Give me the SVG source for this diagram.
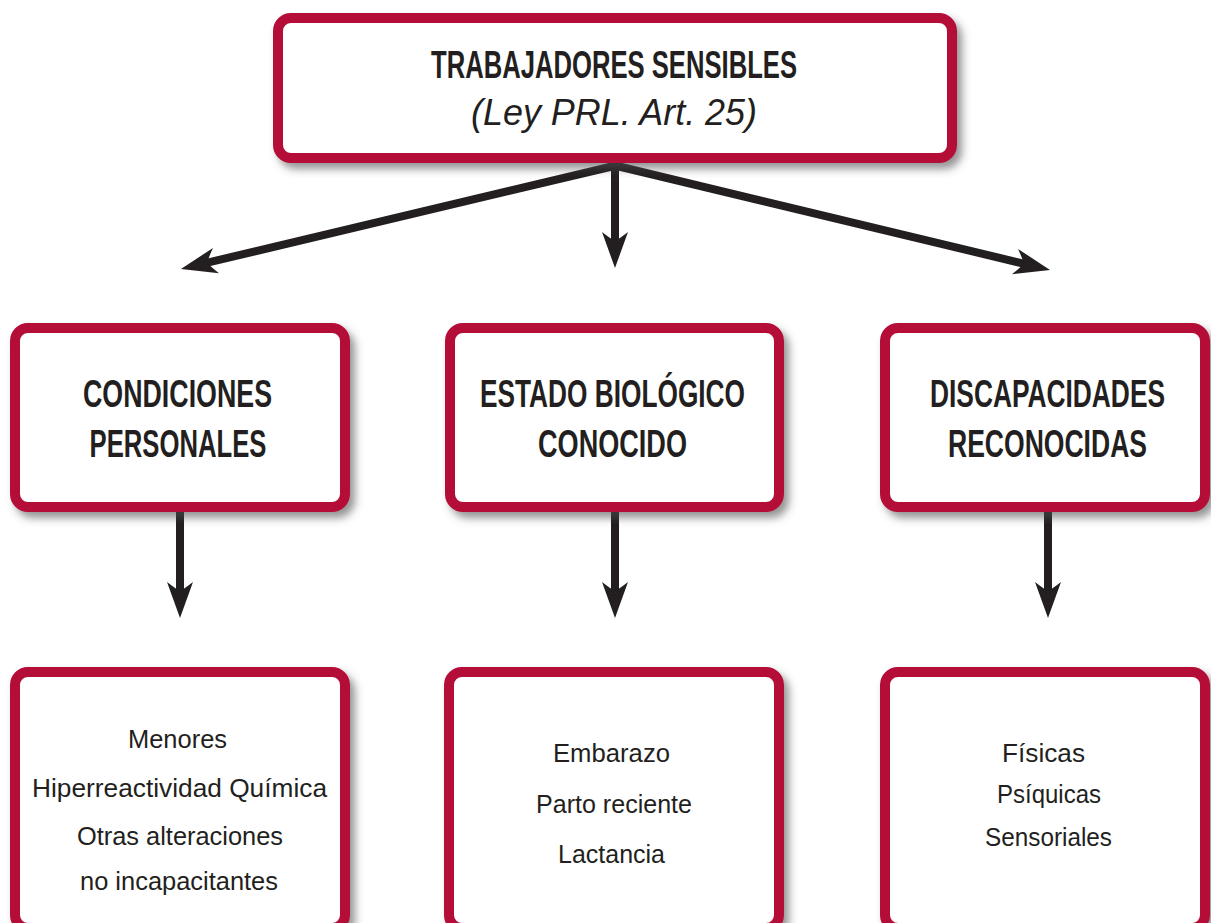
<svg xmlns="http://www.w3.org/2000/svg" width="1211" height="923" viewBox="0 0 1211 923">
  <style>
    .box { fill: #ffffff; stroke: #b30838; stroke-width: 10; }
    .head { font-family: "Liberation Sans Narrow", "Liberation Sans", "DejaVu Sans Condensed", sans-serif; font-weight: bold; font-size: 39px; fill: #231f20; text-anchor: middle; }
    .headr { font-size: 33px; }
    .headrs { font-size: 29px; }
    .sub { font-family: "Liberation Sans Narrow", "Liberation Sans", sans-serif; font-style: italic; font-size: 37px; fill: #231f20; text-anchor: middle; }
    .body { font-family: "Liberation Sans Narrow", "Liberation Sans", sans-serif; font-size: 26px; fill: #231f20; text-anchor: middle; }
    .conn { stroke: #231f20; stroke-width: 8; fill: none; marker-end: url(#arrow); }
  </style>
  <defs>
    <filter id="shadow" x="-10%" y="-10%" width="125%" height="130%">
      <feDropShadow dx="5" dy="6" stdDeviation="4" flood-color="#4d4d4d" flood-opacity="0.6"/>
    </filter>
    <marker id="arrow" markerUnits="userSpaceOnUse" markerWidth="40" markerHeight="30" viewBox="0 0 40 30" refX="12" refY="15" orient="auto">
      <path d="M36,15 L0,2 Q7,11 9,15 Q7,19 0,28 Z" fill="#231f20"/>
    </marker>
  </defs>
  <rect width="1211" height="923" fill="#ffffff"/>

  <g id="connectors">
    <line class="conn" x1="614" y1="166" x2="204.3" y2="263.4"/>
    <line class="conn" x1="617" y1="166" x2="1026.7" y2="264.4"/>
    <line class="conn" x1="615" y1="160" x2="615" y2="244"/>
    <line class="conn" x1="180" y1="505" x2="180" y2="594"/>
    <line class="conn" x1="615" y1="505" x2="615" y2="594"/>
    <line class="conn" x1="1048" y1="505" x2="1048" y2="594"/>
  </g>

  <g id="node-top">
    <rect class="box" x="278" y="18" width="674" height="140" rx="13" filter="url(#shadow)"/>
    <text class="head" x="614" y="78" textLength="366" lengthAdjust="spacingAndGlyphs">TRABAJADORES SENSIBLES</text>
    <text class="sub" x="614" y="125" textLength="286" lengthAdjust="spacingAndGlyphs">(Ley PRL. Art. 25)</text>
  </g>

  <g id="node-condiciones">
    <rect class="box" x="15" y="328" width="330" height="179" rx="13" filter="url(#shadow)"/>
    <text class="head" x="177.5" y="407" textLength="189" lengthAdjust="spacingAndGlyphs">CONDICIONES</text>
    <text class="head" x="178" y="457" textLength="177" lengthAdjust="spacingAndGlyphs">PERSONALES</text>
  </g>

  <g id="node-estado">
    <rect class="box" x="450" y="328" width="329" height="179" rx="13" filter="url(#shadow)"/>
    <text class="head" x="612.5" y="407" textLength="265" lengthAdjust="spacingAndGlyphs">ESTADO BIOLÓGICO</text>
    <text class="head" x="612.5" y="457" textLength="149" lengthAdjust="spacingAndGlyphs">CONOCIDO</text>
  </g>

  <g id="node-discapacidades">
    <rect class="box" x="885" y="328" width="320" height="179" rx="13" filter="url(#shadow)"/>
    <text class="head headrs" transform="translate(1047.5,407) scale(1,1.34)" x="0" y="0" textLength="235" lengthAdjust="spacingAndGlyphs">DISCAPACIDADES</text>
    <text class="head headr" transform="translate(1047.5,457) scale(1,1.18)" x="0" y="0" textLength="199" lengthAdjust="spacingAndGlyphs">RECONOCIDAS</text>
  </g>

  <g id="node-condiciones-list">
    <rect class="box" x="15" y="672" width="330" height="256" rx="13" filter="url(#shadow)"/>
    <text class="body" x="177.5" y="748" textLength="99" lengthAdjust="spacingAndGlyphs">Menores</text>
    <text class="body" x="179.5" y="797" textLength="295" lengthAdjust="spacingAndGlyphs">Hiperreactividad Química</text>
    <text class="body" x="180" y="845" textLength="206" lengthAdjust="spacingAndGlyphs">Otras alteraciones</text>
    <text class="body" x="179" y="890" textLength="198" lengthAdjust="spacingAndGlyphs">no incapacitantes</text>
  </g>

  <g id="node-estado-list">
    <rect class="box" x="449" y="672" width="330" height="256" rx="13" filter="url(#shadow)"/>
    <text class="body" x="611.5" y="762" textLength="117" lengthAdjust="spacingAndGlyphs">Embarazo</text>
    <text class="body" x="614" y="813" textLength="156" lengthAdjust="spacingAndGlyphs">Parto reciente</text>
    <text class="body" x="611.5" y="863" textLength="107" lengthAdjust="spacingAndGlyphs">Lactancia</text>
  </g>

  <g id="node-discapacidades-list">
    <rect class="box" x="885" y="672" width="320" height="256" rx="13" filter="url(#shadow)"/>
    <text class="body" x="1043.5" y="762" textLength="83" lengthAdjust="spacingAndGlyphs">Físicas</text>
    <text class="body" x="1049" y="803" textLength="104" lengthAdjust="spacingAndGlyphs">Psíquicas</text>
    <text class="body" x="1048.5" y="846" textLength="127" lengthAdjust="spacingAndGlyphs">Sensoriales</text>
  </g>
</svg>
